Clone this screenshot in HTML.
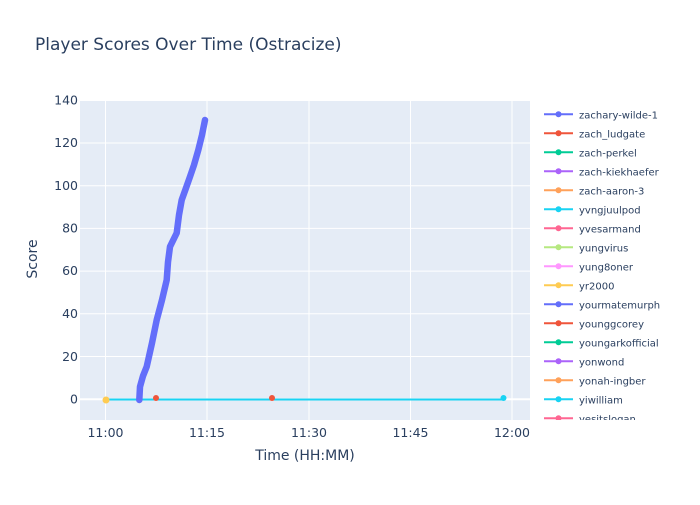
<!DOCTYPE html>
<html><head><meta charset="utf-8"><style>
body{margin:0;background:#fff;}
text{font-family:"DejaVu Sans","Liberation Sans",sans-serif;fill:#2a3f5f;}
</style></head><body>
<svg width="700" height="500" xmlns="http://www.w3.org/2000/svg">
<rect width="700" height="500" fill="#fff"/>
<text x="35" y="50" font-size="17">Player Scores Over Time (Ostracize)</text>
<rect x="80" y="100" width="450" height="320" fill="#e5ecf6"/>
<g stroke="#fff" stroke-width="1">
<line x1="80" x2="530" y1="100.5" y2="100.5"/>
<line x1="80" x2="530" y1="143" y2="143"/>
<line x1="80" x2="530" y1="185.7" y2="185.7"/>
<line x1="80" x2="530" y1="228.4" y2="228.4"/>
<line x1="80" x2="530" y1="271.1" y2="271.1"/>
<line x1="80" x2="530" y1="313.8" y2="313.8"/>
<line x1="80" x2="530" y1="356.5" y2="356.5"/>
<line x1="80" x2="530" y1="399.2" y2="399.2" stroke-width="2"/>
<line x1="105.5" x2="105.5" y1="100" y2="420"/>
<line x1="207" x2="207" y1="100" y2="420"/>
<line x1="309" x2="309" y1="100" y2="420"/>
<line x1="410.5" x2="410.5" y1="100" y2="420"/>
<line x1="512" x2="512" y1="100" y2="420"/>
</g>
<g font-size="12.5" text-anchor="end">
<text x="78" y="104.5">140</text><text x="78" y="147">120</text><text x="78" y="190">100</text>
<text x="78" y="232.5">80</text><text x="78" y="275">60</text><text x="78" y="318">40</text>
<text x="78" y="361">20</text><text x="78" y="403.5">0</text>
</g>
<g font-size="12.5" text-anchor="middle">
<text x="105.5" y="437">11:00</text><text x="207" y="437">11:15</text><text x="309" y="437">11:30</text>
<text x="410.5" y="437">11:45</text><text x="512" y="437">12:00</text>
</g>
<text x="305" y="460" font-size="14" text-anchor="middle">Time (HH:MM)</text>
<text x="37" y="259" font-size="14" text-anchor="middle" transform="rotate(-90 37 259)">Score</text>
<line x1="105" x2="504" y1="399.5" y2="399.5" stroke="#19d3f3" stroke-width="2"/>
<polyline points="139.3,400 140,386.7 143,376 146.7,366.7 152,343 156.7,320 162,300 166.7,280 168,262 170,246.7 176.7,233 179,215 181.7,200 186,188 190,176.7 194,165 198.3,150 202,135 205,120" fill="none" stroke="#636efa" stroke-width="6.5" stroke-linecap="round" stroke-linejoin="round"/>
<circle cx="106" cy="400" r="3.5" fill="#fecb52"/>
<circle cx="156" cy="398" r="3" fill="#ef553b"/>
<circle cx="272" cy="398" r="3" fill="#ef553b"/>
<circle cx="503.5" cy="398" r="3" fill="#19d3f3"/>
<clipPath id="lc"><rect x="540" y="100" width="160" height="320"/></clipPath>
<g clip-path="url(#lc)" font-size="10">
<g transform="translate(0,114.3)"><line x1="544" x2="573" stroke="#636efa" stroke-width="2"/><circle cx="558.5" r="3" fill="#636efa"/><text x="579" y="4">zachary-wilde-1</text></g>
<g transform="translate(0,133.3)"><line x1="544" x2="573" stroke="#ef553b" stroke-width="2"/><circle cx="558.5" r="3" fill="#ef553b"/><text x="579" y="4">zach_ludgate</text></g>
<g transform="translate(0,152.3)"><line x1="544" x2="573" stroke="#00cc96" stroke-width="2"/><circle cx="558.5" r="3" fill="#00cc96"/><text x="579" y="4">zach-perkel</text></g>
<g transform="translate(0,171.3)"><line x1="544" x2="573" stroke="#ab63fa" stroke-width="2"/><circle cx="558.5" r="3" fill="#ab63fa"/><text x="579" y="4">zach-kiekhaefer</text></g>
<g transform="translate(0,190.3)"><line x1="544" x2="573" stroke="#ffa15a" stroke-width="2"/><circle cx="558.5" r="3" fill="#ffa15a"/><text x="579" y="4">zach-aaron-3</text></g>
<g transform="translate(0,209.3)"><line x1="544" x2="573" stroke="#19d3f3" stroke-width="2"/><circle cx="558.5" r="3" fill="#19d3f3"/><text x="579" y="4">yvngjuulpod</text></g>
<g transform="translate(0,228.3)"><line x1="544" x2="573" stroke="#ff6692" stroke-width="2"/><circle cx="558.5" r="3" fill="#ff6692"/><text x="579" y="4">yvesarmand</text></g>
<g transform="translate(0,247.3)"><line x1="544" x2="573" stroke="#b6e880" stroke-width="2"/><circle cx="558.5" r="3" fill="#b6e880"/><text x="579" y="4">yungvirus</text></g>
<g transform="translate(0,266.3)"><line x1="544" x2="573" stroke="#ff97ff" stroke-width="2"/><circle cx="558.5" r="3" fill="#ff97ff"/><text x="579" y="4">yung8oner</text></g>
<g transform="translate(0,285.3)"><line x1="544" x2="573" stroke="#fecb52" stroke-width="2"/><circle cx="558.5" r="3" fill="#fecb52"/><text x="579" y="4">yr2000</text></g>
<g transform="translate(0,304.3)"><line x1="544" x2="573" stroke="#636efa" stroke-width="2"/><circle cx="558.5" r="3" fill="#636efa"/><text x="579" y="4">yourmatemurph</text></g>
<g transform="translate(0,323.3)"><line x1="544" x2="573" stroke="#ef553b" stroke-width="2"/><circle cx="558.5" r="3" fill="#ef553b"/><text x="579" y="4">younggcorey</text></g>
<g transform="translate(0,342.3)"><line x1="544" x2="573" stroke="#00cc96" stroke-width="2"/><circle cx="558.5" r="3" fill="#00cc96"/><text x="579" y="4">youngarkofficial</text></g>
<g transform="translate(0,361.3)"><line x1="544" x2="573" stroke="#ab63fa" stroke-width="2"/><circle cx="558.5" r="3" fill="#ab63fa"/><text x="579" y="4">yonwond</text></g>
<g transform="translate(0,380.3)"><line x1="544" x2="573" stroke="#ffa15a" stroke-width="2"/><circle cx="558.5" r="3" fill="#ffa15a"/><text x="579" y="4">yonah-ingber</text></g>
<g transform="translate(0,399.3)"><line x1="544" x2="573" stroke="#19d3f3" stroke-width="2"/><circle cx="558.5" r="3" fill="#19d3f3"/><text x="579" y="4">yiwilliam</text></g>
<g transform="translate(0,418.3)"><line x1="544" x2="573" stroke="#ff6692" stroke-width="2"/><circle cx="558.5" r="3" fill="#ff6692"/><text x="579" y="4">yesitslogan</text></g>
</g>
</svg>
</body></html>
